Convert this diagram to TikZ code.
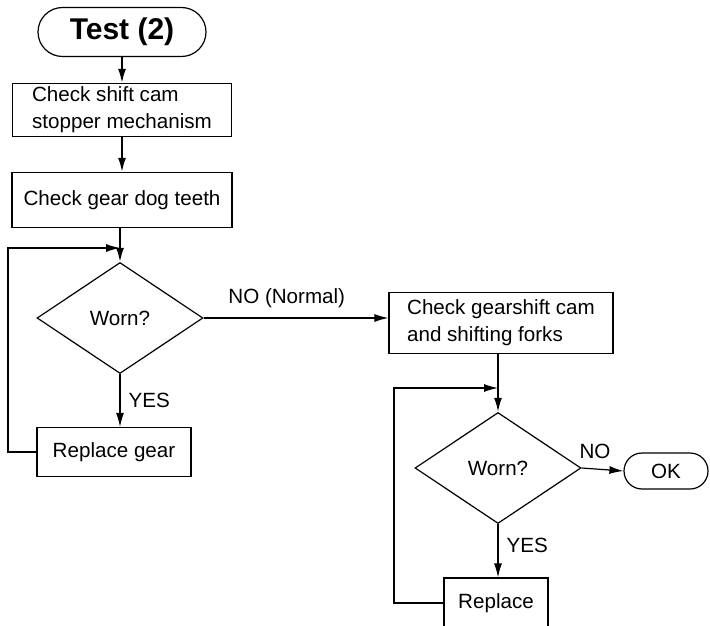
\documentclass[tikz,border=0pt]{standalone}
\usepackage{fontspec}
\setmainfont{Liberation Sans}
\usetikzlibrary{shapes.geometric,shapes.misc,positioning,arrows.meta}

\begin{document}
\begin{tikzpicture}[x=0.5pt,y=-0.5pt,
    font=\fontsize{10.3}{13.5}\selectfont,
    procbox/.style={draw, line width=0.6pt, align=left, inner sep=0pt},
    decision/.style={draw, diamond, line width=0.6pt, inner sep=0pt,
        minimum width=83pt, minimum height=55.5pt},
    terminal/.style={draw, rounded rectangle, line width=0.6pt, inner sep=0pt},
    flow/.style={-{Latex[length=7pt,width=4pt]}, line width=0.9pt},
    branch/.style={-{Latex[length=7pt,width=4pt]}, line width=0.6pt}]
    \useasboundingbox (0,0) rectangle (710,625);
    % Main column
    \node[terminal, minimum width=84pt, minimum height=24.5pt,
        font=\fontsize{15}{18}\selectfont\bfseries] (start) at (122,32) {Test (2)};
    \node[procbox, minimum width=109.5pt, minimum height=26.5pt] (stopper) at (122,110)
        {Check shift cam\\stopper mechanism};
    \node[procbox, minimum width=110pt, minimum height=27.5pt] (dogteeth) at (122,200)
        {Check gear dog teeth};
    \node[decision] (worn1) at (120,318) {Worn?};
    \node[procbox, minimum width=77pt, minimum height=24.5pt] (gear) at (114,452)
        {Replace gear};
    \coordinate (join1) at (120,248);
    \coordinate (back1) at (8,248);
    \draw[flow] (start.south) -- (stopper.north);
    \draw[flow] (stopper.south) -- (dogteeth.north);
    \draw[flow] (dogteeth.south -| worn1.north) -- (worn1.north);
    \draw[branch] (worn1.south) -- (worn1.south |- gear.north)
        node[midway, right, inner sep=4pt] {YES};
    \draw[branch] (gear.west) -| (back1) -- (join1);
    % Second column
    \node[procbox, minimum width=112pt, minimum height=30.5pt] (forks) at (501,323)
        {Check gearshift cam\\and shifting forks};
    \node[decision] (worn2) at (498,468) {Worn?};
    \node[terminal, minimum width=42pt, minimum height=18pt] (ok) at (666,471) {OK};
    \node[procbox, minimum width=52pt, minimum height=25pt] (replace) at (496,603)
        {Replace};
    \coordinate (join2) at (498,388);
    \coordinate (back2) at (394,388);
    \draw[branch] (worn1.east) -- (worn1.east -| forks.west)
        node[pos=0.45, above, inner sep=5pt] {NO (Normal)};
    \draw[flow] (forks.south -| worn2.north) -- (worn2.north);
    \draw[branch] (worn2.east) -- (ok.west)
        node[pos=0.32, above, inner sep=5pt] {NO};
    \draw[branch] (worn2.south) -- (worn2.south |- replace.north)
        node[pos=0.4, right, inner sep=4pt] {YES};
    \draw[branch] (replace.west) -| (back2) -- (join2);
\end{tikzpicture}
\end{document}
